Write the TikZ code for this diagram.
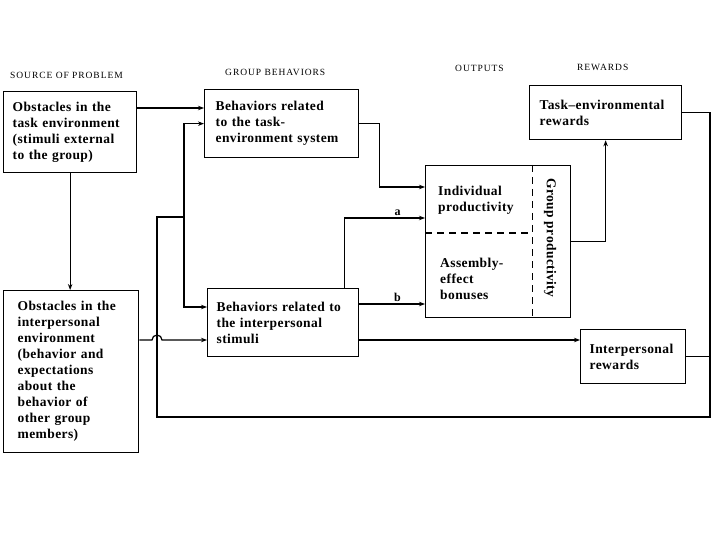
\documentclass[tikz,border=0pt]{standalone}
\usepackage{fontspec}
\setmainfont{Liberation Serif}
\newfontfamily\boxfont[LetterSpace = 3]{Liberation Serif}
\newfontfamily\hdrfont[LetterSpace = 10]{Liberation Serif}
\usetikzlibrary{arrows.meta}

\begin{document}
\begin{tikzpicture}[x = 1pt, y = -1pt,
  box/.style = {draw = black, line width = 1.3pt, anchor = north west, align = left, inner ysep = 0pt, font = \boxfont\bfseries\fontsize{13.5}{16}\selectfont},
  txt/.style = {inner sep = 0pt, align = left, font = \boxfont\bfseries\fontsize{13.5}{16}\selectfont},
  hdr/.style = {anchor = west, inner sep = 0pt, font = \hdrfont\fontsize{9.5}{11}\selectfont},
  link/.style = {draw = black, line width = 1.2pt},
  dashline/.style = {link, dash pattern = on 7pt off 5pt},
  arr/.style = {link, -{Stealth[length = 6pt, width = 4.5pt]}},
  lbl/.style = {above, inner sep = 2pt, font = \bfseries\fontsize{12}{14}\selectfont}]
\useasboundingbox (0,0) rectangle (720,540);
\node[hdr] (hsrc) at (10,75) {SOURCE OF PROBLEM};
\node[hdr] (hgrp) at (225,72) {GROUP BEHAVIORS};
\node[hdr] (hout) at (455,68) {OUTPUTS};
\node[hdr] (hrew) at (577,67) {REWARDS};
\node[box, inner xsep = 9pt, minimum width = 133pt, minimum height = 81pt, text width = 115pt] (taskobs) at (3,91) {Obstacles in the\\task environment\\(stimuli external\\to the group)};
\node[box, inner xsep = 14pt, minimum width = 135pt, minimum height = 162pt, text width = 107pt] (intobs) at (3,290) {Obstacles in the\\interpersonal\\environment\\(behavior and\\expectations\\about the\\behavior of\\other group\\members)};
\node[box, inner xsep = 11pt, minimum width = 154pt, minimum height = 68pt, text width = 132pt] (taskbeh) at (204,89) {Behaviors related\\to the task-\\environment system};
\node[box, inner xsep = 9pt, minimum width = 151pt, minimum height = 68pt, text width = 133pt] (intbeh) at (207,288) {Behaviors related to\\the interpersonal\\stimuli};
\node[box, minimum width = 145pt, minimum height = 152pt] (output) at (425,165) {};
\node[box, inner xsep = 10pt, minimum width = 152pt, minimum height = 54pt, text width = 132pt] (taskrew) at (529,85) {Task–environmental\\rewards};
\node[box, inner xsep = 9pt, minimum width = 105pt, minimum height = 54pt, text width = 87pt] (intrew) at (580,329) {Interpersonal\\rewards};
\node[txt, anchor = west] (indiv) at (438,200) {Individual\\productivity};
\node[txt, anchor = west] (assem) at (440,279) {Assembly-\\effect\\bonuses};
\node[txt, rotate = -90] (grp) at (550,238) {Group productivity};
\draw[dashline] ([yshift = -68pt]output.north west) -- ([yshift = -68pt, xshift = -39pt]output.north east);
\draw[dashline] ([xshift = -39pt]output.north east) -- ([xshift = -39pt]output.south east);
\coordinate (fbcorner) at (710,417);
\coordinate (fbleft) at (157,417);
\coordinate (fbsplit) at (184,217);
\coordinate (ib) at ([yshift = -52pt]intbeh.north west);
\coordinate (aend) at ([yshift = -53pt]output.north west);
\coordinate (bstart) at ([yshift = -16pt]intbeh.north east);
\draw[arr] ([yshift = -17pt]taskobs.north east) -- ([yshift = -17pt]taskobs.north east -| taskbeh.west);
\draw[arr] (taskobs.south) -- (taskobs.south |- intobs.north);
\draw[link] (taskrew.east) -| (fbcorner) -- (fbleft) |- (fbsplit);
\draw[link] (intrew.east) -- (intrew.east -| fbcorner);
\draw[arr] (fbsplit) |- (taskbeh.west);
\draw[arr] (fbsplit) |- ([yshift = -19pt]intbeh.north west);
\draw[arr] (intobs.east |- ib) -- ([xshift = -5pt]fbleft |- ib) arc[start angle = 180, end angle = 360, radius = 5] -- (ib);
\draw[arr] (taskbeh.east) -- ++(20,0) |- ([yshift = -22pt]output.north west);
\draw[arr] ([xshift = -15pt]intbeh.north east) |- node[lbl, pos = 0.83] {a} (aend);
\draw[arr] (bstart) -- node[lbl, pos = 0.58] {b} (bstart -| output.west);
\draw[arr] ([yshift = -52pt]intbeh.north east) -- ([yshift = -52pt]intbeh.north east -| intrew.west);
\draw[arr] (output.east) -| (taskrew.south);
\end{tikzpicture}
\end{document}
